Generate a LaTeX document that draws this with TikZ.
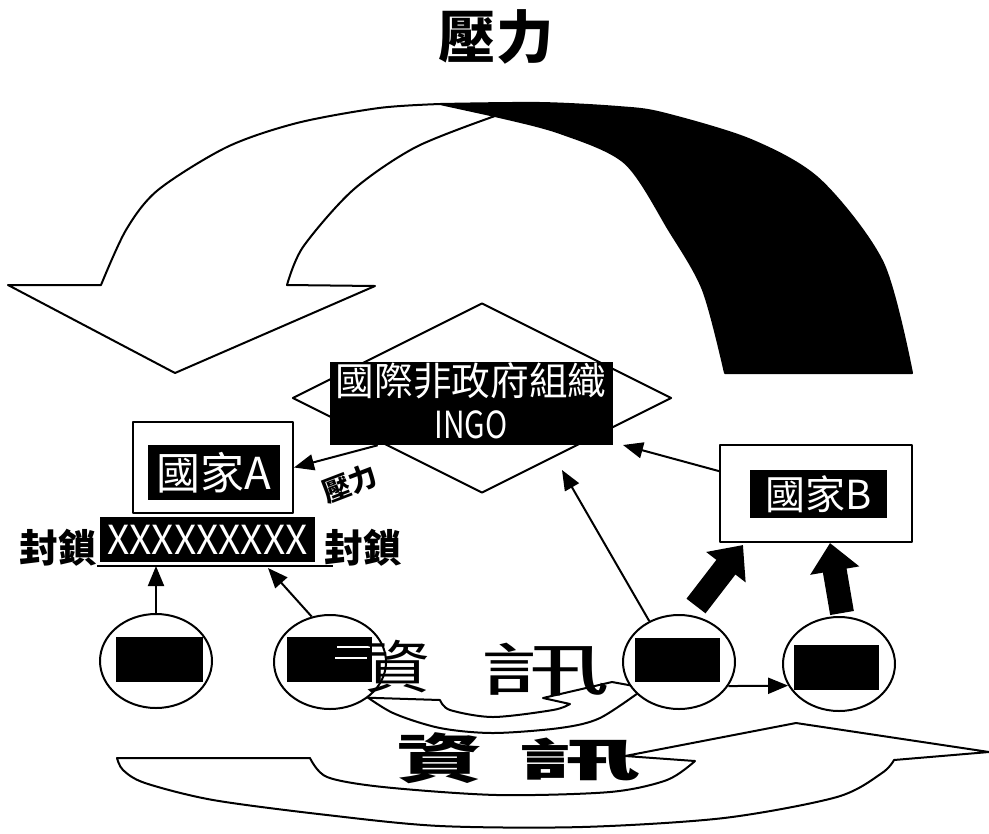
\documentclass[tikz,border=0pt]{standalone}
\usepackage{fontspec}
\usepackage{graphicx}
\setmainfont{Noto Sans CJK TC}
\usetikzlibrary{arrows.meta,shapes.geometric}
\begin{document}
\begin{tikzpicture}[x=0.75pt,y=-0.75pt,line join=round,
  outl/.style={draw=black,line width=1.5pt},
  thinarr/.style={draw=black,line width=1.5pt,-{Triangle[length=15pt,width=12pt]}},
  thickarr/.style={draw=black,line width=18pt,-{Triangle[length=21pt,width=36pt]}},
  circ/.style={ellipse,draw=black,line width=1.5pt,fill=white,minimum width=84pt,minimum height=70.5pt,inner sep=0pt},
  blk/.style={fill=black,inner sep=0pt},
  wt/.style={text=white,inner sep=0pt},
  rbox/.style={draw=black,line width=1.5pt,fill=white,inner sep=0pt}]
\useasboundingbox (0,0) rectangle (989,833);

% title
\node[font=\bfseries\fontsize{43}{43}\selectfont] (title) at (496,37) {壓力};

% big curved arrow: dark back band
\filldraw[outl,fill=black] plot[smooth] coordinates {(440,104) (540,103) (618,107) (662,113) (751,140) (820,180) (883,263) (912,373)} -- (725,373) -- plot[smooth] coordinates {(725,373) (703,290) (669,230) (625,163) (560,133) (495,116) (440,104)} -- cycle;
% white front part with head
\filldraw[outl,fill=white] (101,285) -- plot[smooth] coordinates {(101,285) (126,230) (158,190) (227,147) (297,123) (379,108) (440,104)} -- (495,116) -- plot[smooth] coordinates {(495,116) (416,147) (353,190) (303,247) (287,285)} -- (375,286) -- (175,373) -- (8,285) -- cycle;

% INGO diamond
\node[diamond,draw=black,line width=1.5pt,fill=white,minimum width=284.25pt,minimum height=142.5pt,inner sep=0pt] (ingo) at (482,398) {};
\node[blk,minimum width=212.25pt,minimum height=62.25pt] (ingolbl) at (471.5,403.5) {};
\node[wt,font=\fontsize{29}{29}\selectfont] (ingo1) at (471,381) {國際非政府組織};
\node[wt,font=\fontsize{28}{28}\selectfont] (ingo2) at (471,425) {\scalebox{0.8}[1]{INGO}};

% State A
\node[rbox,minimum width=120pt,minimum height=68.25pt] (stA) at (213,467.5) {};
\node[blk,minimum width=99pt,minimum height=41.25pt] (stAl) at (214,472.5) {};
\node[wt,font=\fontsize{33}{33}\selectfont] (stAt) at (214,472.5) {國家A};

% blockade bar
\node[blk,minimum width=161.25pt,minimum height=33.75pt] (bar) at (207.5,539.5) {};
\node[wt,font=\fontsize{28}{28}\selectfont] (barx) at (207.5,540) {\resizebox{150pt}{22pt}{XXXXXXXXX}};
\draw[outl] (97,566) coordinate (ulL) -- (333,566) coordinate (ulR);
\node[font=\bfseries\fontsize{29}{29}\selectfont] (fsL) at (58,548) {封鎖};
\node[font=\bfseries\fontsize{29}{29}\selectfont] (fsR) at (363,548) {封鎖};

% State B
\node[rbox,minimum width=144pt,minimum height=72.75pt] (stB) at (816,493.5) {};
\node[blk,minimum width=102.75pt,minimum height=36pt] (stBl) at (818.5,494) {};
\node[wt,font=\fontsize{30}{30}\selectfont] (stBt) at (818.5,494) {國家B};

% middle small ribbon
\filldraw[outl,fill=white] (345,697) -- (440,700) -- plot[smooth] coordinates {(440,700) (450,710) (493,717) (553,710) (570,704)} -- (543,698) -- (612,682) -- (645,688) -- plot[smooth] coordinates {(645,688) (600,718) (560,728) (493,733) (440,728) (393,713) (360,692)} -- cycle;

% bottom ribbon arrow
\filldraw[outl,fill=white] (117,758) -- (310,758) -- plot[smooth] coordinates {(310,758) (327,777) (383,787) (497,795) (610,792) (667,780) (695,761)} -- (625,756) -- (796,723) -- (989,752) -- (894,760) -- plot[smooth] coordinates {(894,760) (882,773) (837,797) (724,818) (582,827) (440,826) (327,815) (213,800) (145,783) (123,770) (117,758)} -- cycle;

% circles
\node[circ] (c1) at (156,661) {};
\node[circ] (c2) at (330,662) {};
\node[circ] (c3) at (679,662) {};
\node[circ] (c4) at (839,664) {};
\node[blk,minimum width=65.25pt,minimum height=33.75pt] (r1) at (159.5,659.5) {};
\node[blk,minimum width=63.75pt,minimum height=33.75pt] (r2) at (329.5,659.5) {};
\node[blk,minimum width=63.75pt,minimum height=33pt] (r3) at (677.5,660) {};
\node[blk,minimum width=63.75pt,minimum height=33.75pt] (r4) at (836.5,667.5) {};
\draw[white,line width=1.5pt] (337,647) -- (370,647) (335,658) -- (367,658);

% thin arrows
\coordinate (t2) at (268,568);
\coordinate (t3) at (562,470);
\coordinate (t4) at (623,445);
\draw[thinarr] (c1.north) -- (c1.north |- ulL);
\draw[thinarr] (c2.112) -- (t2);
\draw[thinarr] (c3.126) -- (t3);
\draw[thinarr] (stB.167) -- (t4);
\draw[thinarr] (ingolbl.-156) -- (stA.east);
\draw[thinarr] (c3.-26) -- (c4.203);

% thick arrows
\coordinate (k1s) at (696,606);
\coordinate (k1e) at (743,545);
\coordinate (k2s) at (842,613);
\coordinate (k2e) at (830,543);
\draw[thickarr] (k1s) -- (k1e);
\draw[thickarr] (k2s) -- (k2e);

% small pressure label
\node[font=\bfseries\fontsize{21}{21}\selectfont,rotate=21] (yl) at (350,484) {壓力};

% middle info text
\node[font=\fontsize{43}{43}\selectfont] (zx1) at (397,667) {\scalebox{1.15}[1]{資}};
\node[font=\fontsize{43}{43}\selectfont] (zx2) at (545,670) {\scalebox{2.3}[1]{訊}};

% bottom info text
\node[font=\bfseries\fontsize{42}{42}\selectfont] (bz1) at (440,758) {\scalebox{1.55}[0.95]{資}};
\node[font=\bfseries\fontsize{42}{42}\selectfont] (bz2) at (580,760) {\scalebox{2.2}[0.8]{訊}};
\end{tikzpicture}
\end{document}
